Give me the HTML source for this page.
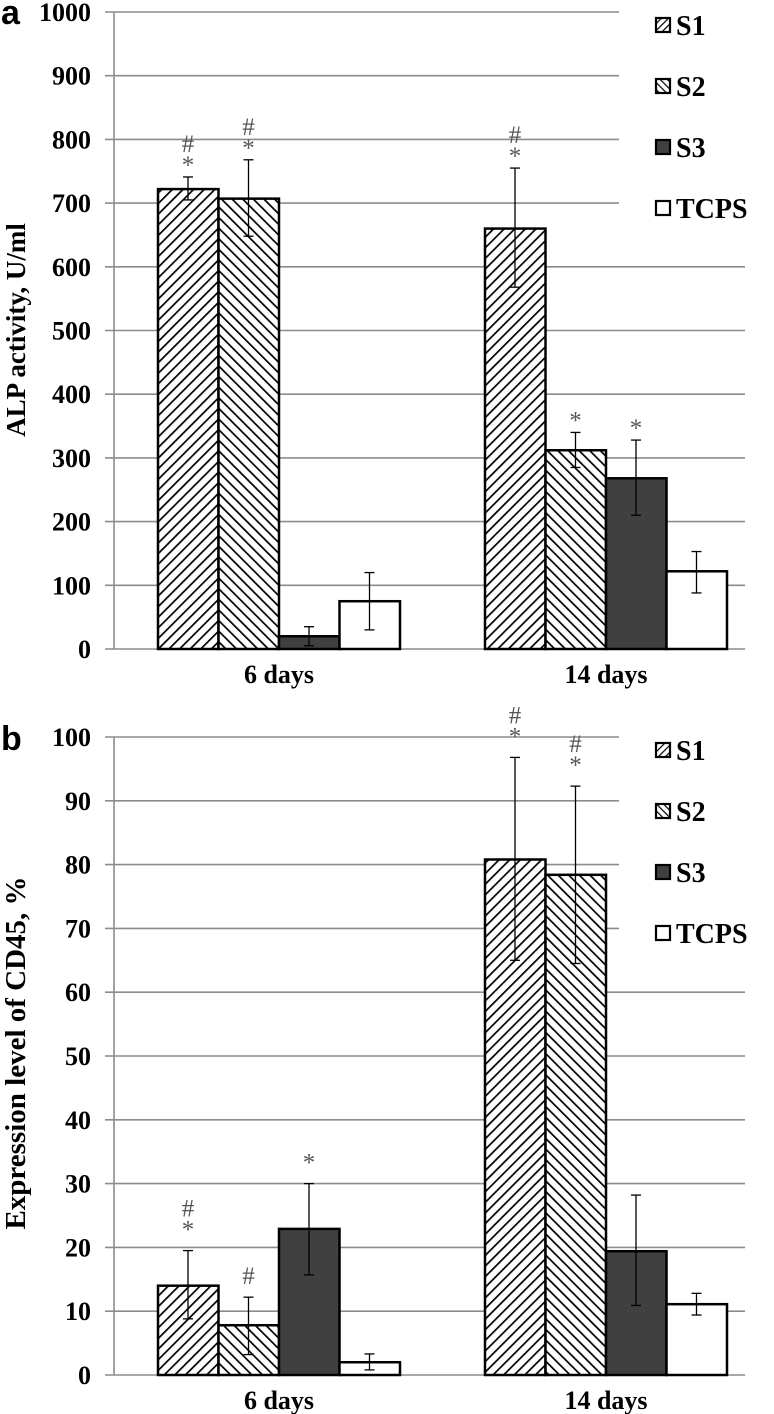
<!DOCTYPE html>
<html><head><meta charset="utf-8"><style>
body{margin:0;background:#fff;}
svg{display:block;font-family:"Liberation Serif",serif;}
</style></head><body>
<svg id="chart" width="774" height="1414" viewBox="0 0 774 1414" xmlns="http://www.w3.org/2000/svg">
<defs>
<pattern id="h1" patternUnits="userSpaceOnUse" width="7.5" height="7.5" patternTransform="rotate(45)"><rect width="7.5" height="7.5" fill="#fff"/><line x1="0" y1="0" x2="0" y2="7.5" stroke="#000" stroke-width="3.4"/></pattern>
<pattern id="h2" patternUnits="userSpaceOnUse" width="7.5" height="7.5" patternTransform="rotate(-45)"><rect width="7.5" height="7.5" fill="#fff"/><line x1="0" y1="0" x2="0" y2="7.5" stroke="#000" stroke-width="3.4"/></pattern>
<pattern id="l1" patternUnits="userSpaceOnUse" width="5" height="5" patternTransform="rotate(45)"><rect width="5" height="5" fill="#fff"/><line x1="0" y1="0" x2="0" y2="5" stroke="#000" stroke-width="2.4"/></pattern>
<pattern id="l2" patternUnits="userSpaceOnUse" width="5" height="5" patternTransform="rotate(-45)"><rect width="5" height="5" fill="#fff"/><line x1="0" y1="0" x2="0" y2="5" stroke="#000" stroke-width="2.4"/></pattern>
</defs>
</svg>
<script>
const categories = ["6 days", "14 days"];
const seriesNames = ["S1", "S2", "S3", "TCPS"];
// Panel a: ALP activity
const alpMeans = [[722, 660], [707, 312], [20, 268], [75, 122]];
const alpErrLow = [[705, 568], [648, 285], [5, 210], [30, 88]];
const alpErrHigh = [[741, 755], [768, 340], [35, 328], [120, 153]];
const alpMarks = [["#*", "#*"], ["#*", "*"], ["", "*"], ["", ""]];
const alpTicks = [0, 100, 200, 300, 400, 500, 600, 700, 800, 900, 1000];
// Panel b: CD45
const cdMeans = [[14, 80.8], [7.8, 78.4], [22.9, 19.4], [2, 11.1]];
const cdErrLow = [[8.8, 65], [3.2, 64.5], [15.7, 10.9], [0.8, 9.4]];
const cdErrHigh = [[19.5, 96.8], [12.2, 92.3], [30, 28.2], [3.3, 12.8]];
const cdMarks = [["#*", "#*"], ["#", "#*"], ["*", ""], ["", ""]];
const cdTicks = [0, 10, 20, 30, 40, 50, 60, 70, 80, 90, 100];

const svg = document.getElementById('chart');
const NS = 'http://www.w3.org/2000/svg';
function mk(tag, attrs, parent) {
  const e = document.createElementNS(NS, tag);
  for (const k in attrs) e.setAttribute(k, attrs[k]);
  (parent || svg).appendChild(e);
  return e;
}
const fills = ["url(#h1)", "url(#h2)", "#404040", "#fff"];
const legendFills = ["url(#l1)", "url(#l2)", "#404040", "#fff"];

function panel(cfg) {
  const g = mk('g', {});
  
  
  const maxV = cfg.ticks[cfg.ticks.length - 1];
  const y = v => cfg.y0 - (v / maxV) * (cfg.y0 - cfg.yTop);
  const left = 114, band = 327;
  const x = (ci, si) => left + 44 + ci * band + si * 60.5;
  cfg.ticks.forEach(t => {
    const yy = y(t);
    const l = mk('line', {x1: 105, x2: 745, y1: yy, y2: yy, stroke: '#8c8c8c', 'stroke-width': 1.6}, g);
    
    
    const tx = mk('text', {x: 91, y: yy + 9, 'text-anchor': 'end', 'font-size': 26, 'font-weight': 'bold'}, g);
    tx.textContent = t;
    
    
  });
  const ax = mk('line', {x1: left, x2: left, y1: cfg.yTop, y2: cfg.y0, stroke: '#8c8c8c', 'stroke-width': 1.6}, g);
  
  
  mk('rect', {x: 619, y: cfg.legTop, width: 155, height: cfg.legH, fill: '#fff'}, g);
  categories.forEach((c, ci) => {
    seriesNames.forEach((s, si) => {
      const v = cfg.means[si][ci];
      const b = mk('rect', {x: x(ci, si), y: y(v), width: 60.5, height: cfg.y0 - y(v), fill: fills[si], stroke: '#000', 'stroke-width': 2.5}, g);
      
      
    });
    const cl = mk('text', {x: left + 44 + ci * band + 121, y: cfg.y0 + 34, 'text-anchor': 'middle', 'font-size': 26, 'font-weight': 'bold'}, g);
    cl.textContent = c;
    
    
  });
  categories.forEach((c, ci) => {
    seriesNames.forEach((s, si) => {
      const cx = x(ci, si) + 30;
      const lo = y(cfg.lo[si][ci]), hi = y(cfg.hi[si][ci]);
      const eg = mk('g', {stroke: '#000', 'stroke-width': 1.3}, g);
      
      
      mk('line', {x1: cx, x2: cx, y1: lo, y2: hi}, eg);
      mk('line', {x1: cx - 5, x2: cx + 5, y1: lo, y2: lo}, eg);
      mk('line', {x1: cx - 5, x2: cx + 5, y1: hi, y2: hi}, eg);
      const m = cfg.marks[si][ci];
      const hasStar = m.indexOf('*') >= 0;
      if (hasStar) {
        const t = mk('text', {x: cx, y: hi + cfg.starOff, 'text-anchor': 'middle', 'font-size': 25, fill: '#555'}, g);
        t.textContent = '*';
        
        
      }
      if (m.indexOf('#') >= 0) {
        const t = mk('text', {x: cx, y: hasStar ? hi + cfg.hashOff : hi - 13, 'text-anchor': 'middle', 'font-size': 25, fill: '#555'}, g);
        t.textContent = '#';
        
        
      }
    });
  });
  seriesNames.forEach((s, si) => {
    const ly = cfg.legY + si * 61;
    const lg = mk('g', {}, g);
    
    
    mk('rect', {x: 656, y: ly - 7, width: 14, height: 14, fill: legendFills[si], stroke: '#000', 'stroke-width': 2.2}, lg);
    const t = mk('text', {x: 676, y: ly + 10, 'font-size': 28, 'font-weight': 'bold'}, lg);
    t.textContent = s;
  });
  const yt = mk('text', {x: 0, y: 0, transform: `translate(25 ${cfg.titleY}) rotate(-90)`, 'text-anchor': 'middle', 'font-size': cfg.titleSize, 'font-weight': 'bold'}, g);
  yt.textContent = cfg.title;
  
  
  const pl = mk('text', {x: 1, y: cfg.letterY, 'font-size': 34, 'font-weight': 'bold', 'font-family': 'Liberation Sans, sans-serif'}, g);
  pl.textContent = cfg.letter;
  
  
}
panel({name: 'panel-a-alp', y0: 649, yTop: 12, ticks: alpTicks, means: alpMeans, lo: alpErrLow, hi: alpErrHigh, marks: alpMarks,
  starOff: -4, hashOff: -25,
  legTop: 0, legH: 230, legY: 25, title: 'ALP activity, U/ml', titleSize: 27, titleY: 330, letter: 'a', letterY: 24});
panel({name: 'panel-b-cd45', y0: 1375, yTop: 737, ticks: cdTicks, means: cdMeans, lo: cdErrLow, hi: cdErrHigh, marks: cdMarks,
  starOff: -13, hashOff: -34,
  legTop: 722, legH: 230, legY: 750, title: 'Expression level of CD45, %', titleSize: 29, titleY: 1053, letter: 'b', letterY: 750});
</script>
</body></html>
